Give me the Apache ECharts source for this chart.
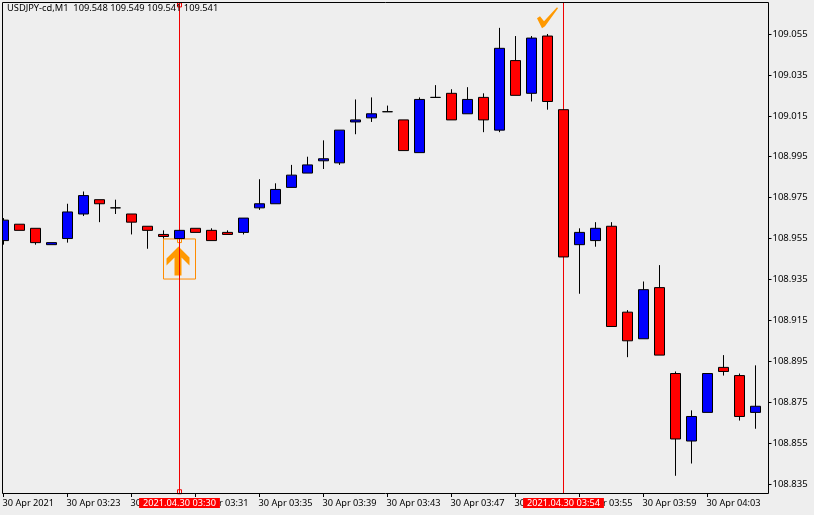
<!DOCTYPE html>
<html>
<head>
<meta charset="utf-8">
<style>html,body{margin:0;padding:0;background:#eeeeee}#c{width:814px;height:515px}</style>
<script src="https://cdn.jsdelivr.net/npm/echarts@6/dist/echarts.min.js"></script>
</head>
<body>
<div id="c"></div>
<script>
var times = ['30 Apr 2021','30 Apr 03:20','30 Apr 03:21','30 Apr 03:22','30 Apr 03:23','30 Apr 03:24','30 Apr 03:25','30 Apr 03:26','30 Apr 03:27','30 Apr 03:28','30 Apr 03:29','30 Apr 03:30','30 Apr 03:31','30 Apr 03:32','30 Apr 03:33','30 Apr 03:34','30 Apr 03:35','30 Apr 03:36','30 Apr 03:37','30 Apr 03:38','30 Apr 03:39','30 Apr 03:40','30 Apr 03:41','30 Apr 03:42','30 Apr 03:43','30 Apr 03:44','30 Apr 03:45','30 Apr 03:46','30 Apr 03:47','30 Apr 03:48','30 Apr 03:49','30 Apr 03:50','30 Apr 03:51','30 Apr 03:52','30 Apr 03:53','30 Apr 03:54','30 Apr 03:55','30 Apr 03:56','30 Apr 03:57','30 Apr 03:58','30 Apr 03:59','30 Apr 04:00','30 Apr 04:01','30 Apr 04:02','30 Apr 04:03','30 Apr 04:04','30 Apr 04:05','30 Apr 04:06'];
var opens  = [108.954,108.962,108.960,108.952,108.955,108.967,108.974,108.970,108.967,108.961,108.957,108.955,108.960,108.959,108.958,108.958,108.970,108.972,108.980,108.987,108.993,108.992,109.012,109.014,109.017,109.013,108.997,109.024,109.026,109.016,109.024,109.008,109.042,109.026,109.054,109.018,108.952,108.954,108.961,108.919,108.906,108.931,108.889,108.856,108.870,108.892,108.888,108.870];
var closes = [108.964,108.959,108.953,108.953,108.968,108.976,108.972,108.970,108.963,108.959,108.956,108.959,108.958,108.954,108.957,108.965,108.972,108.979,108.986,108.991,108.994,109.008,109.013,109.016,109.017,108.998,109.023,109.024,109.013,109.023,109.013,109.048,109.025,109.053,109.022,108.946,108.958,108.960,108.912,108.905,108.930,108.898,108.857,108.868,108.889,108.890,108.868,108.873];
var lows   = [108.952,108.959,108.952,108.952,108.953,108.966,108.963,108.967,108.957,108.950,108.955,108.955,108.958,108.954,108.957,108.957,108.969,108.972,108.980,108.987,108.989,108.991,109.006,109.012,109.017,108.998,108.997,109.024,109.013,109.016,109.007,109.007,109.025,109.022,109.018,108.946,108.928,108.951,108.912,108.897,108.906,108.898,108.839,108.845,108.870,108.888,108.866,108.862];
var highs  = [108.965,108.962,108.960,108.953,108.972,108.978,108.974,108.974,108.967,108.961,108.959,108.959,108.960,108.960,108.959,108.965,108.984,108.982,108.991,108.995,109.003,109.008,109.023,109.024,109.020,109.013,109.024,109.030,109.028,109.029,109.026,109.058,109.054,109.054,109.055,109.018,108.960,108.963,108.963,108.920,108.934,108.942,108.890,108.871,108.889,108.898,108.889,108.893];
var priceTicks = [108.835,108.855,108.875,108.895,108.915,108.935,108.955,108.975,108.995,109.015,109.035,109.055];
var headerText = 'USDJPY-cd,M1  109.548 109.549 109.541 109.541';
var cursorTimes = ['30 Apr 03:30','30 Apr 03:54'];
var cursorLabels = ['2021.04.30 03:30','2021.04.30 03:54'];
var FONT = '"Noto Sans"';
var BG = '#eeeeee';
var ohlc = times.map(function(t,i){return [opens[i],closes[i],lows[i],highs[i]];});
var chart = echarts.init(document.getElementById('c'),null,{renderer:'canvas'});
chart.setOption({
  animation:false,
  backgroundColor:BG,
  title:{text:headerText,left:7,top:4,padding:0,textStyle:{fontFamily:FONT,fontSize:9.3,fontWeight:'normal',color:'#000'}},
  grid:{left:-4.5,top:2.5,width:768,height:491.5,containLabel:false,outerBoundsMode:'none'},
  xAxis:{type:'category',data:times,boundaryGap:true,
    axisLine:{show:false},
    axisTick:{show:true,alignWithLabel:true,interval:3,length:3,lineStyle:{color:'#000'}},
    axisLabel:{show:true,interval:3,hideOverlap:false,margin:5,align:'left',color:'#000',fontFamily:FONT,fontSize:9.2,padding:[0,0,0,-1]},
    splitLine:{show:false}},
  yAxis:{type:'value',position:'right',offset:5,min:108.8301,max:109.0704,
    axisLine:{show:false},
    axisTick:{show:true,length:3,lineStyle:{color:'#000'},customValues:priceTicks},
    axisLabel:{show:true,margin:4,color:'#000',fontFamily:FONT,fontSize:9.5,padding:[2,0,0,0],customValues:priceTicks,formatter:function(v){return v.toFixed(3);}},
    splitLine:{show:false}},
  series:[{
    type:'candlestick',name:'USDJPY-cd,M1',data:ohlc,barWidth:10,z:2,clip:false,
    itemStyle:{color:'#0000ff',color0:'#ff0000',borderColor:'#000',borderColor0:'#000',borderColorDoji:'#000',borderWidth:1},
    markLine:{silent:true,symbol:'none',z:1,animation:false,
      lineStyle:{color:'#f00000',width:1,type:'solid'},
      label:{show:true,position:'start',distance:4,formatter:'{b}',color:'#fff',backgroundColor:'#ff0000',padding:[1,4,0,4],fontFamily:FONT,fontSize:9.2},
      emphasis:{disabled:true},
      data:cursorTimes.map(function(t,i){return {xAxis:t,name:cursorLabels[i]};})},
    markArea:{silent:true,z:1,animation:false,
      itemStyle:{color:'rgba(0,0,0,0)',borderColor:'#ff8c00',borderWidth:1},
      data:[[{xAxis:'30 Apr 03:29',yAxis:108.9548},{xAxis:'30 Apr 03:31',yAxis:108.9352}]]},
    markPoint:{silent:true,z:0,animation:false,label:{show:false},
      data:[
        {coord:['30 Apr 03:30',108.944],symbol:'path://M12 0L23 11L23 19L15 11L15 29L8 29L8 11L0 19L0 12Z',symbolSize:[23,29],symbolKeepAspect:false,symbolOffset:[-1.5,0],itemStyle:{color:'#ff9900'}},
        {coord:['30 Apr 03:53',109.063],symbol:'path://M0 11L3 9L7 14L20 0L21 1L8 19L5 21Z',symbolSize:[21,21],symbolKeepAspect:false,itemStyle:{color:'#ff9900'}},
        {coord:['30 Apr 03:30',108.954],symbol:'rect',symbolSize:4,itemStyle:{color:'rgba(0,0,0,0)',borderColor:'#ff8c00',borderWidth:1}},
        {coord:['30 Apr 03:30',109.0692],symbol:'rect',symbolSize:4,itemStyle:{color:BG,borderColor:'#f00000',borderWidth:1}},
        {coord:['30 Apr 03:30',108.8312],symbol:'rect',symbolSize:4,itemStyle:{color:BG,borderColor:'#f00000',borderWidth:1}}
      ]}
  }],
  graphic:[
    {type:'rect',z:100,silent:true,shape:{x:0,y:0,width:2,height:515},style:{fill:BG}},
    {type:'rect',z:101,silent:true,shape:{x:2.5,y:2.5,width:766,height:491},style:{fill:'none',stroke:'#000',lineWidth:1}}
  ]
});
</script>
</body>
</html>
